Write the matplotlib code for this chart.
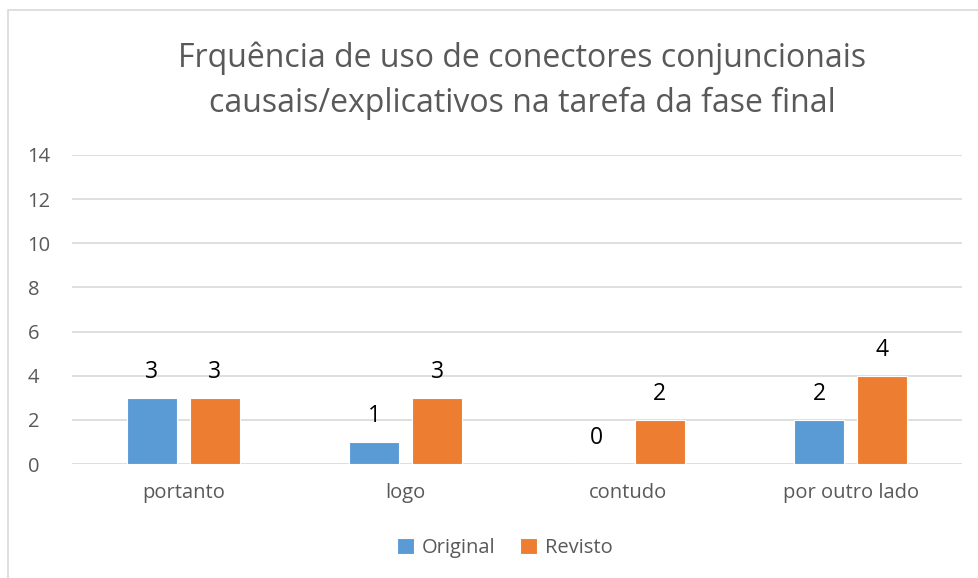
import matplotlib

matplotlib.use("Agg")
import matplotlib.pyplot as plt
import numpy as np
from matplotlib.patches import Rectangle

categories = ["portanto", "logo", "contudo", "por outro lado"]
original = [3, 1, 0, 2]
revisto = [3, 3, 2, 4]
yticks = [0, 2, 4, 6, 8, 10, 12, 14]

BLUE = "#5B9BD5"
ORANGE = "#ED7D31"
GRAY = "#595959"

plt.rcParams["font.family"] = ["Open Sans", "DejaVu Sans"]

fig = plt.figure(figsize=(9.79, 5.78), dpi=100)
ax = fig.add_axes([72 / 979, 1 - 464 / 578, 890 / 979, 309 / 578])

# outer chart border
fig.patches.append(Rectangle((8 / 979, -0.05), 1.1, 1 - 10 / 578 + 0.05,
                             transform=fig.transFigure, fill=False,
                             edgecolor="#D9D9D9", linewidth=1.2))

x = np.arange(len(categories))
w = 0.225
off = 0.142
b1 = ax.bar(x - off, original, w, color=BLUE, edgecolor="white", linewidth=0.8,
            label="Original", zorder=3)
b2 = ax.bar(x + off, revisto, w, color=ORANGE, edgecolor="white", linewidth=0.8,
            label="Revisto", zorder=3)
for bars in (b1, b2):
    ax.bar_label(bars, padding=10, fontsize=16.5, color="black")

ax.set_xlim(-0.5, len(categories) - 0.5)
ax.set_ylim(0, 14)
ax.set_yticks(yticks)
ax.set_xticks(x)
ax.set_xticklabels(categories)
ax.tick_params(axis="both", length=0, labelsize=14.5, labelcolor=GRAY)
ax.tick_params(axis="x", pad=14)
ax.tick_params(axis="y", pad=32)
for lbl in ax.get_yticklabels():
    lbl.set_horizontalalignment("left")
ax.grid(axis="y", color="#D9D9D9", linewidth=1.2, zorder=0)
for s in ax.spines.values():
    s.set_visible(False)

fig.text(522 / 979, 1 - 81 / 578, "Frquência de uso de conectores conjuncionais\n"
         "causais/explicativos na tarefa da fase final",
         ha="center", va="center", fontsize=23, color=GRAY, linespacing=1.45)

fig.legend(loc="center", bbox_to_anchor=(505 / 979, 1 - 548 / 578), ncol=2,
           frameon=False, fontsize=14.5, labelcolor=GRAY, handlelength=0.85,
           handleheight=0.85, handletextpad=0.4, columnspacing=1.2)

fig.savefig("out.png", dpi=100)
